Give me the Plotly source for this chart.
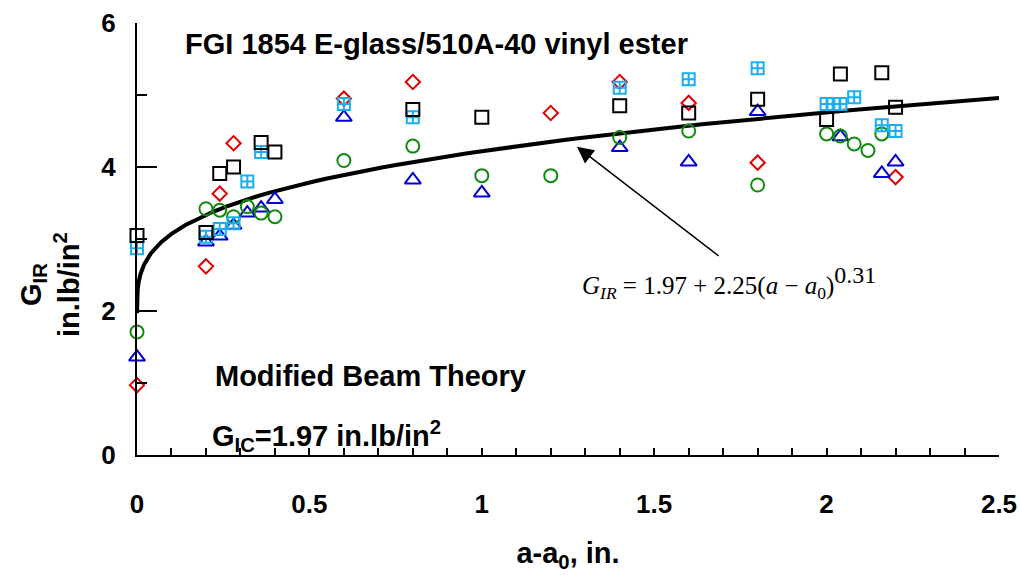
import numpy as np
import plotly.graph_objects as go

# ---- data ----
sq_x = [0, 0.2, 0.24, 0.28, 0.36, 0.4, 0.8, 1.0, 1.4, 1.6, 1.8, 2.0, 2.04, 2.16, 2.2]
sq_y = [3.05, 3.09, 3.91, 4.0, 4.34, 4.21, 4.80, 4.69, 4.85, 4.75, 4.94, 4.66, 5.29, 5.31, 4.83]

cy_x = [0, 0.2, 0.24, 0.28, 0.32, 0.36, 0.6, 0.8, 1.4, 1.6, 1.8, 2.0, 2.02, 2.04, 2.08, 2.16, 2.2]
cy_y = [2.87, 3.03, 3.14, 3.22, 3.80, 4.21, 4.875, 4.69, 5.10, 5.22, 5.37, 4.875, 4.875, 4.875, 4.97, 4.58, 4.50]

rd_x = [0, 0.2, 0.24, 0.28, 0.6, 0.8, 1.2, 1.4, 1.6, 1.8, 2.2]
rd_y = [0.97, 2.62, 3.63, 4.33, 4.95, 5.18, 4.75, 5.18, 4.89, 4.06, 3.86]

tr_x = [0, 0.2, 0.24, 0.28, 0.32, 0.36, 0.4, 0.6, 0.8, 1.0, 1.4, 1.6, 1.8, 2.04, 2.16, 2.2]
tr_y = [1.36, 2.96, 3.04, 3.19, 3.36, 3.43, 3.55, 4.69, 3.82, 3.64, 4.27, 4.07, 4.77, 4.42, 3.91, 4.07]

gc_x = [0, 0.2, 0.24, 0.28, 0.32, 0.36, 0.4, 0.6, 0.8, 1.0, 1.2, 1.4, 1.6, 1.8, 2.0, 2.04, 2.08, 2.12, 2.16]
gc_y = [1.71, 3.42, 3.40, 3.31, 3.45, 3.36, 3.31, 4.09, 4.29, 3.88, 3.88, 4.41, 4.50, 3.75, 4.46, 4.43, 4.32, 4.23, 4.46]

# fitted curve shown on the chart: G_IR = 1.97 + 2.25 (a-a0)^0.31
fit_c0, fit_c1, fit_p = 1.97, 2.25, 0.31
fit_x = np.concatenate([[0, 0.0005, 0.002, 0.005, 0.01, 0.02, 0.04, 0.07], np.linspace(0.1, 2.5, 60)])
fit_y = fit_c0 + fit_c1 * fit_x ** fit_p

x_ticks = [0, 0.5, 1, 1.5, 2, 2.5]
y_ticks = [0, 2, 4, 6]

FONT = "Arial, Liberation Sans, sans-serif"
SERIF = "Liberation Serif, Times New Roman, serif"

fig = go.Figure()
fig.add_trace(go.Scatter(x=fit_x, y=fit_y, mode="lines",
                         line=dict(color="black", width=4), cliponaxis=False))
fig.add_trace(go.Scatter(x=rd_x, y=rd_y, mode="markers", cliponaxis=False,
                         marker=dict(symbol="diamond-open", size=11, color="#e00000",
                                     line=dict(width=2, color="#e00000"))))
fig.add_trace(go.Scatter(x=tr_x, y=tr_y, mode="markers", cliponaxis=False,
                         marker=dict(symbol="triangle-up-open", size=14, color="#0000d0",
                                     line=dict(width=2, color="#0000d0"))))
fig.add_trace(go.Scatter(x=gc_x, y=gc_y, mode="markers", cliponaxis=False,
                         marker=dict(symbol="circle-open", size=13, color="#108a10",
                                     line=dict(width=2, color="#108a10"))))
fig.add_trace(go.Scatter(x=cy_x, y=cy_y, mode="markers", cliponaxis=False,
                         marker=dict(symbol="square-cross-open", size=12, color="#1aaef0",
                                     line=dict(width=2, color="#1aaef0"))))
fig.add_trace(go.Scatter(x=sq_x, y=sq_y, mode="markers", cliponaxis=False,
                         marker=dict(symbol="square-open", size=13, color="black",
                                     line=dict(width=2, color="black"))))

fig.update_layout(
    width=1021, height=577,
    margin=dict(l=137, r=22, t=23, b=122),
    paper_bgcolor="white", plot_bgcolor="white",
    showlegend=False,
    font=dict(family=FONT, color="black"),
    xaxis=dict(range=[0, 2.5], tickvals=x_ticks, ticktext=[str(v) for v in x_ticks],
               automargin=False,
               showline=True, linecolor="black", linewidth=2, showgrid=False, zeroline=False,
               ticks="inside", ticklen=7, tickwidth=1.5, tickcolor="black",
               minor=dict(ticks="inside", ticklen=7, tickwidth=1.5, tickcolor="black", dtick=0.1),
               tickfont=dict(size=26, family=FONT, color="black", weight="bold"),
               ticklabelstandoff=25,
               title=dict(text="<b>a-a<sub>0</sub>, in.</b>", font=dict(size=29, family=FONT), standoff=24)),
    yaxis=dict(range=[0, 6], tickvals=y_ticks, ticktext=[str(v) for v in y_ticks],
               automargin=False,
               showline=True, linecolor="black", linewidth=2, showgrid=False, zeroline=False,
               ticks="inside", ticklen=20, tickwidth=1.5, tickcolor="black",
               minor=dict(ticks="inside", ticklen=10, tickwidth=1.5, tickcolor="black", dtick=1),
               tickfont=dict(size=26, family=FONT, color="black", weight="bold"),
               ticklabelstandoff=14),
)

def px2paper(px, py):
    return (px - 137) / 862.0, (455 - py) / 432.0

ann = []
x0, y0 = px2paper(183, 44)
ann.append(dict(x=x0, y=y0, xref="paper", yref="paper", xanchor="left", yanchor="middle",
                text="<b>FGI 1854 E-glass/510A-40 vinyl ester</b>", showarrow=False,
                font=dict(size=29, family=FONT, color="black")))
x0, y0 = px2paper(213, 376)
ann.append(dict(x=x0, y=y0, xref="paper", yref="paper", xanchor="left", yanchor="middle",
                text="<b>Modified Beam Theory</b>", showarrow=False,
                font=dict(size=29, family=FONT, color="black")))
x0, y0 = px2paper(210, 436)
ann.append(dict(x=x0, y=y0, xref="paper", yref="paper", xanchor="left", yanchor="middle",
                text="<b>G<sub>IC</sub>=1.97 in.lb/in<sup>2</sup></b>", showarrow=False,
                font=dict(size=29, family=FONT, color="black")))
x0, y0 = px2paper(580, 282)
ann.append(dict(x=x0, y=y0, xref="paper", yref="paper", xanchor="left", yanchor="middle",
                text="<i>G</i><sub><i>IR</i></sub> = 1.97 + 2.25(<i>a</i> \u2212 <i>a</i><sub>0</sub>)"
                     "<sup><span style=\"font-size:24px\">0.31</span></sup>",
                showarrow=False,
                font=dict(size=25, family=SERIF, color="black")))
# y-axis title
x0, y0 = px2paper(50, 285)
ann.append(dict(x=x0, y=y0, xref="paper", yref="paper", showarrow=False,
                xanchor="center", yanchor="middle",
                text="<b>G<sub>IR</sub><br>in.lb/in<sup>2</sup></b>", textangle=-90,
                font=dict(size=29, family=FONT, color="black")))
# arrow
ann.append(dict(x=1.276, y=4.28, xref="x", yref="y", ax=1.691, ay=2.75, axref="x", ayref="y",
                showarrow=True, arrowhead=2, arrowsize=2.2, arrowwidth=1.5, arrowcolor="black",
                text=""))
fig.update_layout(annotations=ann)

fig.write_html("out.html", config={"displayModeBar": False},
               post_script="document.body.style.margin='0';document.body.style.overflow='hidden';")
